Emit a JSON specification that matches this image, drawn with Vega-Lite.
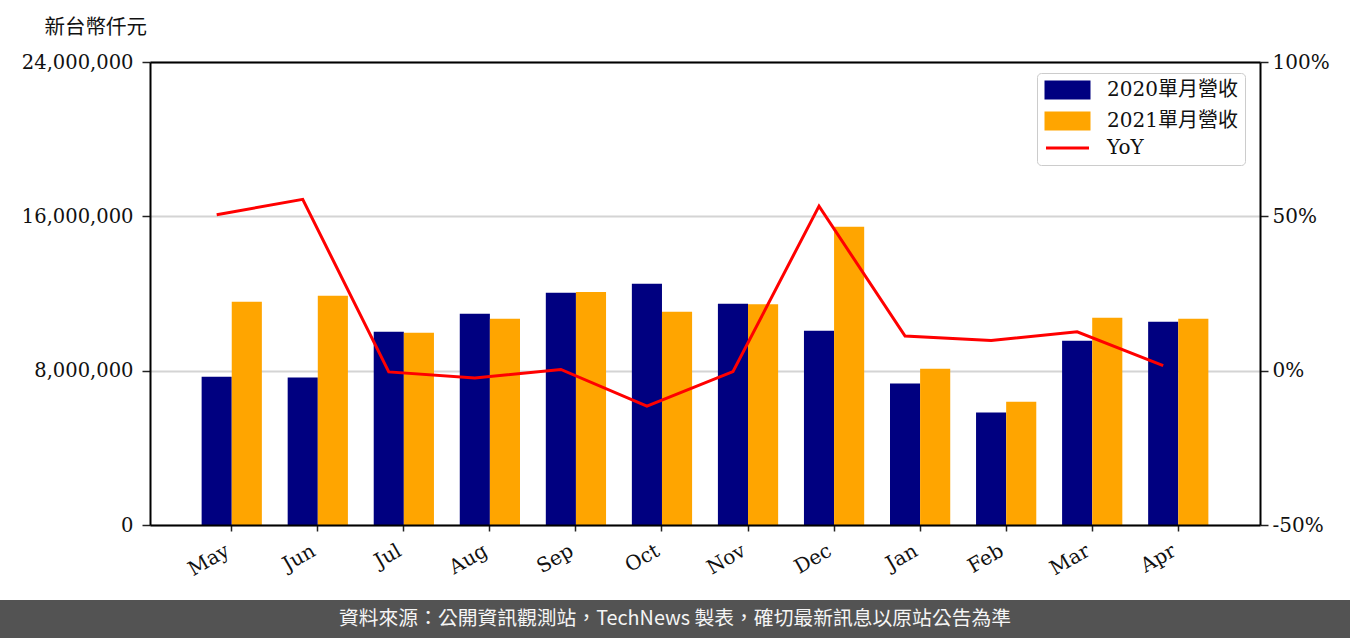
{
  "$schema": "https://vega.github.io/schema/vega-lite/v6.json",
  "background": "white",
  "padding": 0,
  "spacing": 0,
  "config": {
    "view": {"stroke": null},
    "axis": {"labelFont": "DejaVu Serif", "labelFontSize": 20, "labelColor": "#111111", "tickColor": "#222222", "domainColor": "#000000"}
  },
  "datasets": {
    "revenue": [
      {"month": "May", "series": "2020單月營收", "value": 7690000},
      {"month": "May", "series": "2021單月營收", "value": 11570000},
      {"month": "Jun", "series": "2020單月營收", "value": 7640000},
      {"month": "Jun", "series": "2021單月營收", "value": 11880000},
      {"month": "Jul", "series": "2020單月營收", "value": 10020000},
      {"month": "Jul", "series": "2021單月營收", "value": 9970000},
      {"month": "Aug", "series": "2020單月營收", "value": 10950000},
      {"month": "Aug", "series": "2021單月營收", "value": 10690000},
      {"month": "Sep", "series": "2020單月營收", "value": 12040000},
      {"month": "Sep", "series": "2021單月營收", "value": 12080000},
      {"month": "Oct", "series": "2020單月營收", "value": 12500000},
      {"month": "Oct", "series": "2021單月營收", "value": 11050000},
      {"month": "Nov", "series": "2020單月營收", "value": 11470000},
      {"month": "Nov", "series": "2021單月營收", "value": 11440000},
      {"month": "Dec", "series": "2020單月營收", "value": 10070000},
      {"month": "Dec", "series": "2021單月營收", "value": 15460000},
      {"month": "Jan", "series": "2020單月營收", "value": 7330000},
      {"month": "Jan", "series": "2021單月營收", "value": 8100000},
      {"month": "Feb", "series": "2020單月營收", "value": 5830000},
      {"month": "Feb", "series": "2021單月營收", "value": 6390000},
      {"month": "Mar", "series": "2020單月營收", "value": 9550000},
      {"month": "Mar", "series": "2021單月營收", "value": 10740000},
      {"month": "Apr", "series": "2020單月營收", "value": 10540000},
      {"month": "Apr", "series": "2021單月營收", "value": 10690000}
    ],
    "yoy": [
      {"month": "May", "yoy": 50.5},
      {"month": "Jun", "yoy": 55.5},
      {"month": "Jul", "yoy": -0.4},
      {"month": "Aug", "yoy": -2.4},
      {"month": "Sep", "yoy": 0.4},
      {"month": "Oct", "yoy": -11.5},
      {"month": "Nov", "yoy": -0.3},
      {"month": "Dec", "yoy": 53.3},
      {"month": "Jan", "yoy": 11.2},
      {"month": "Feb", "yoy": 9.8},
      {"month": "Mar", "yoy": 12.6},
      {"month": "Apr", "yoy": 1.6}
    ]
  },
  "vconcat": [
    {
      "width": 1350,
      "height": 600,
      "view": {"stroke": null},
      "layer": [
        {
          "data": {"name": "revenue"},
          "mark": {"type": "bar"},
          "encoding": {
            "x": {
              "field": "month", "type": "nominal", "sort": null,
              "scale": {"type": "band", "domain": ["May","Jun","Jul","Aug","Sep","Oct","Nov","Dec","Jan","Feb","Mar","Apr"], "range": [150, 1260], "paddingInner": 0.3, "paddingOuter": 0.6},
              "axis": {"orient": "bottom", "offset": -75, "title": null, "labelAngle": -30, "labelAlign": "right", "labelBaseline": "middle", "labelPadding": 18, "labelOffset": -4, "tickSize": 6, "tickWidth": 1.5, "domainWidth": 2, "zindex": 1}
            },
            "xOffset": {"field": "series", "type": "nominal", "scale": {"domain": ["2020單月營收", "2021單月營收"], "paddingInner": 0, "paddingOuter": 0}},
            "y": {
              "field": "value", "type": "quantitative",
              "scale": {"domain": [0, 24000000], "range": [525, 62], "nice": false, "zero": true},
              "axis": {"orient": "left", "offset": -150, "values": [0, 8000000, 16000000, 24000000], "format": ",d", "labelFontSize": 19.5, "tickSize": 8, "tickWidth": 1.5, "labelPadding": 9, "domainWidth": 2, "grid": true, "gridColor": "#d4d4d4", "gridWidth": 2,
                "title": "新台幣仟元", "titleAngle": 0, "titleAlign": "left", "titleBaseline": "middle", "titleX": -106, "titleY": 27, "titleFont": "Noto Sans CJK TC", "titleFontSize": 20.5, "titleFontWeight": "normal", "titleColor": "#111111"}
            },
            "color": {
              "field": "series", "type": "nominal",
              "scale": {"domain": ["2020單月營收", "2021單月營收", "YoY"], "range": ["#000080", "#ffa500", "#ff0000"]},
              "legend": {
                "title": null, "orient": "none", "legendX": 1037, "legendY": 73,
                "fillColor": "white", "strokeColor": "#cccccc", "cornerRadius": 4, "padding": 7,
                "labelFont": "DejaVu Serif, Noto Sans CJK TC", "labelFontSize": 20, "labelColor": "#111111", "labelOffset": 43, "rowPadding": 3,
                "symbolSize": 256,
                "encode": {
                  "symbols": {
                    "update": {
                      "shape": {"signal": "datum.value === 'YoY' ? 'M-1,0H4.375' : 'M-1,-1H4.375V1H-1Z'"},
                      "fill": {"signal": "datum.value === 'YoY' ? 'transparent' : (datum.value === '2020單月營收' ? '#000080' : '#ffa500')"},
                      "stroke": {"signal": "datum.value === 'YoY' ? '#ff0000' : 'transparent'"},
                      "strokeWidth": {"value": 3},
                      "opacity": {"value": 1}
                    }
                  }
                }
              }
            }
          }
        },
        {
          "data": {"name": "yoy"},
          "mark": {"type": "line", "strokeWidth": 3},
          "encoding": {
            "x": {
              "field": "month", "type": "nominal", "sort": null, "bandPosition": 0.25,
              "scale": {"type": "band", "domain": ["May","Jun","Jul","Aug","Sep","Oct","Nov","Dec","Jan","Feb","Mar","Apr"], "range": [150, 1260], "paddingInner": 0.3, "paddingOuter": 0.6},
              "axis": {"orient": "top", "offset": -62, "title": null, "labels": false, "ticks": false, "domainWidth": 2, "zindex": 1}
            },
            "y": {
              "field": "yoy", "type": "quantitative",
              "scale": {"domain": [-50, 100], "range": [525, 62], "nice": false, "zero": false},
              "axis": {"orient": "right", "offset": -90, "values": [-50, 0, 50, 100], "labelExpr": "datum.value + '%'", "tickSize": 8, "tickWidth": 1.5, "labelPadding": 4, "domainWidth": 2, "grid": false, "title": null, "zindex": 1}
            },
            "color": {"datum": "YoY", "type": "nominal"}
          }
        }
      ],
      "resolve": {"scale": {"y": "independent"}}
    },
    {
      "width": 1350,
      "height": 38,
      "view": {"fill": "#535353", "stroke": null},
      "data": {"values": [{"note": "資料來源：公開資訊觀測站，TechNews 製表，確切最新訊息以原站公告為準"}]},
      "mark": {"type": "text", "color": "#f5f5f5", "font": "Noto Sans CJK TC", "fontSize": 19.8},
      "encoding": {"text": {"field": "note", "type": "nominal"}}
    }
  ]
}
